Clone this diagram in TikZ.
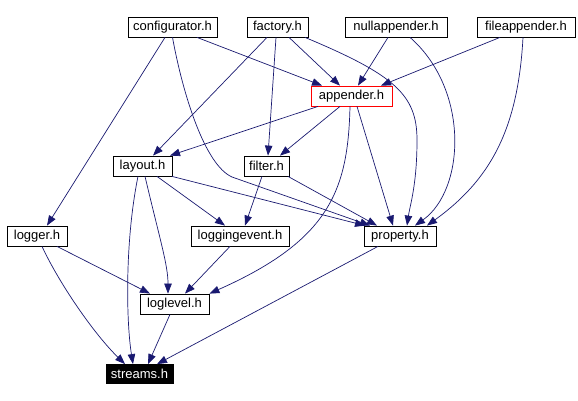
\documentclass[tikz,border=0pt]{standalone}
\usepackage{fontspec}
\setmainfont{Liberation Sans}
\usetikzlibrary{arrows.meta}

\definecolor{depblue}{HTML}{191970}

\tikzset{
  hdr/.style={draw, rectangle, line width=0.8pt, inner sep=0pt, minimum height=20pt,
    font=\fontsize{13}{15}\selectfont},
  cur/.style={hdr, draw=red},
  leaf/.style={hdr, fill=black, text=white, minimum height=19pt},
  dep/.style={draw=depblue, line width=0.7pt, -{Triangle[length=10pt,width=7.5pt]}},
}

\begin{document}
\begin{tikzpicture}[x=1pt, y=-1pt]
\useasboundingbox (0,0) rectangle (578,401);

%% header nodes
\node[hdr, minimum width=89pt] (config) at (172.5,27) {configurator.h};
\node[hdr, minimum width=61pt] (factory) at (277.5,27) {factory.h};
\node[hdr, minimum width=102pt] (nullapp) at (396,27) {nullappender.h};
\node[hdr, minimum width=98pt] (fileapp) at (526,27) {fileappender.h};

\node[cur, minimum width=81pt] (app) at (351.5,96) {appender.h};

\node[hdr, minimum width=59pt] (layout) at (142.5,166) {layout.h};
\node[hdr, minimum width=45pt] (filter) at (266.5,166) {filter.h};

\node[hdr, minimum width=60pt] (logger) at (37,236) {logger.h};
\node[hdr, minimum width=98pt] (logev) at (240,236) {loggingevent.h};
\node[hdr, minimum width=72pt] (prop) at (400,236) {property.h};

\node[hdr, minimum width=69pt] (loglvl) at (174.5,304) {loglevel.h};
\node[leaf, minimum width=67pt] (streams) at (139.5,374) {streams.h};

%% includes
\draw[dep] ([xshift=24.5pt]config.south) -- ([xshift=-29.5pt]app.north);
\draw[dep] ([xshift=-7.5pt]config.south) -- ([xshift=10pt]logger.north);
\draw[dep] (config.south) .. controls (183,95) and (205,165) .. (232,177)
  -- ([xshift=-30pt]prop.north);

\draw[dep] ([xshift=-10.5pt]factory.south) -- ([xshift=10.5pt]layout.north);
\draw[dep] ([xshift=-1.5pt]factory.south) -- ([xshift=1.5pt]filter.north);
\draw[dep] ([xshift=11.5pt]factory.south) -- ([xshift=-11.5pt]app.north);
\draw[dep] ([xshift=27.5pt]factory.south) .. controls (395,75) and (417,95) .. (417,140)
  .. controls (417,185) and (410,205) .. ([xshift=7pt]prop.north);

\draw[dep] ([xshift=-8pt]nullapp.south) -- ([xshift=6.5pt]app.north);
\draw[dep] ([xshift=14pt]nullapp.south) .. controls (470,90) and (465,190) .. ([xshift=15pt]prop.north);

\draw[dep] ([xshift=-26pt]fileapp.south) -- ([xshift=29.5pt]app.north);
\draw[dep] ([xshift=-3pt]fileapp.south) .. controls (518,130) and (490,180) .. ([xshift=27pt]prop.north);

\draw[dep] ([xshift=-33.5pt]app.south) -- ([xshift=27.5pt]layout.north);
\draw[dep] ([xshift=-11.5pt]app.south) -- ([xshift=13.5pt]filter.north);
\draw[dep] ([xshift=5.5pt]app.south) -- ([xshift=-7pt]prop.north);
\draw[dep] ([xshift=-1.5pt]app.south) .. controls (348,190) and (330,240) .. (loglvl.north east);

\draw[dep] ([xshift=14.5pt]layout.south) -- ([xshift=-15pt]logev.north);
\draw[dep] ([xshift=29.5pt]layout.south) -- ([xshift=-35pt]prop.north);
\draw[dep] ([xshift=2.5pt]layout.south) .. controls (160,240) and (168,265) .. ([xshift=-6.5pt]loglvl.north);
\draw[dep] ([xshift=-4.5pt]layout.south) .. controls (125,240) and (126,320) .. ([xshift=-6.5pt]streams.north);

\draw[dep] ([xshift=-4.5pt]filter.south) -- ([xshift=5pt]logev.north);
\draw[dep] ([xshift=21.5pt]filter.south) -- ([xshift=-23pt]prop.north);

\draw[dep] ([xshift=20pt]logger.south) -- ([xshift=-24.5pt]loglvl.north);
\draw[dep] ([xshift=5pt]logger.south) .. controls (60,285) and (95,335) .. ([xshift=-14.5pt]streams.north);

\draw[dep] ([xshift=-10pt]logev.south) -- ([xshift=10.5pt]loglvl.north);
\draw[dep] ([xshift=-4.5pt]loglvl.south) -- ([xshift=8.5pt]streams.north);
\draw[dep] ([xshift=-22pt]prop.south) -- ([xshift=17.5pt]streams.north);

\end{tikzpicture}
\end{document}
